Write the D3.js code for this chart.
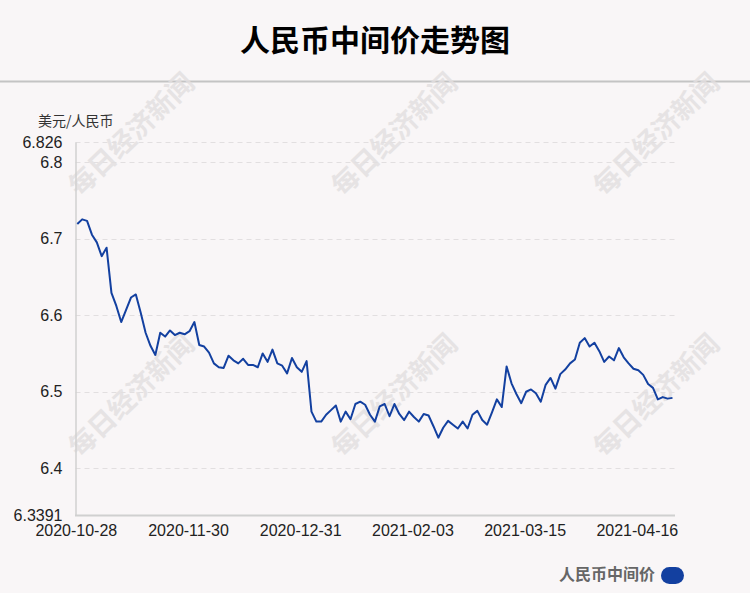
<!DOCTYPE html>
<html><head><meta charset="utf-8">
<script src="https://cdn.jsdelivr.net/npm/d3@7"></script>
<style>
html,body{margin:0;padding:0;background:#f9f6f7;}
svg{display:block;}
</style></head>
<body>
<svg id="chart" width="750" height="593"></svg>
<script>
const title = "人民币中间价走势图";
const yAxisTitle = "美元/人民币";
const seriesName = "人民币中间价";
const watermark = "每日经济新闻";

const dates = [
"2020-10-28","2020-10-29","2020-10-30",
"2020-11-02","2020-11-03","2020-11-04","2020-11-05","2020-11-06",
"2020-11-09","2020-11-10","2020-11-11","2020-11-12","2020-11-13",
"2020-11-16","2020-11-17","2020-11-18","2020-11-19","2020-11-20",
"2020-11-23","2020-11-24","2020-11-25","2020-11-26","2020-11-27",
"2020-11-30",
"2020-12-01","2020-12-02","2020-12-03","2020-12-04",
"2020-12-07","2020-12-08","2020-12-09","2020-12-10","2020-12-11",
"2020-12-14","2020-12-15","2020-12-16","2020-12-17","2020-12-18",
"2020-12-21","2020-12-22","2020-12-23","2020-12-24","2020-12-25",
"2020-12-28","2020-12-29","2020-12-30","2020-12-31",
"2021-01-04","2021-01-05","2021-01-06","2021-01-07","2021-01-08",
"2021-01-11","2021-01-12","2021-01-13","2021-01-14","2021-01-15",
"2021-01-18","2021-01-19","2021-01-20","2021-01-21","2021-01-22",
"2021-01-25","2021-01-26","2021-01-27","2021-01-28","2021-01-29",
"2021-02-01","2021-02-02","2021-02-03","2021-02-04","2021-02-05",
"2021-02-08","2021-02-09","2021-02-10",
"2021-02-18","2021-02-19",
"2021-02-22","2021-02-23","2021-02-24","2021-02-25","2021-02-26",
"2021-03-01","2021-03-02","2021-03-03","2021-03-04","2021-03-05",
"2021-03-08","2021-03-09","2021-03-10","2021-03-11","2021-03-12",
"2021-03-15","2021-03-16","2021-03-17","2021-03-18","2021-03-19",
"2021-03-22","2021-03-23","2021-03-24","2021-03-25","2021-03-26",
"2021-03-29","2021-03-30","2021-03-31",
"2021-04-01","2021-04-02",
"2021-04-06","2021-04-07","2021-04-08","2021-04-09",
"2021-04-12","2021-04-13","2021-04-14","2021-04-15","2021-04-16",
"2021-04-19","2021-04-20","2021-04-21","2021-04-22","2021-04-23",
"2021-04-26","2021-04-27"
];

const values = [
6.719,6.725,6.723,6.705,6.695,6.677,6.688,6.629,6.612,6.591,
6.607,6.623,6.627,6.603,6.577,6.560,6.548,6.577,6.572,6.580,
6.574,6.577,6.575,6.579,6.591,6.561,6.559,6.551,6.537,6.532,
6.531,6.547,6.541,6.537,6.543,6.535,6.535,6.532,6.550,6.539,
6.555,6.537,6.534,6.524,6.544,6.532,6.526,6.540,6.474,6.461,
6.461,6.470,6.476,6.482,6.461,6.474,6.464,6.484,6.487,6.483,
6.470,6.461,6.481,6.484,6.468,6.484,6.471,6.463,6.474,6.467,
6.461,6.471,6.469,6.455,6.440,6.453,6.462,6.457,6.452,6.461,
6.452,6.470,6.475,6.463,6.457,6.473,6.490,6.480,6.533,6.511,
6.497,6.485,6.500,6.503,6.498,6.487,6.509,6.518,6.504,6.523,
6.529,6.537,6.542,6.564,6.570,6.559,6.564,6.553,6.539,6.546,
6.541,6.557,6.545,6.537,6.530,6.528,6.522,6.510,6.505,6.490,
6.493,6.491,6.492
];

const xTickLabels = ["2020-10-28","2020-11-30","2020-12-31","2021-02-03","2021-03-15","2021-04-16"];
const yTicks = [6.3391, 6.4, 6.5, 6.6, 6.7, 6.8, 6.826];
const yMin = 6.3391, yMax = 6.826;

const svg = d3.select("#chart");
const W = 750, H = 593;
const plot = {left: 75.5, right: 675, top: 142, bottom: 515};
const cjk = "'Noto Sans CJK SC','Noto Sans',sans-serif";
const latin = "'Liberation Sans',Arial,sans-serif";
const lineColor = "#1340a0";

svg.append("rect").attr("width", W).attr("height", H).attr("fill", "#f9f6f7");

// Title
svg.append("text").attr("x", W/2).attr("y", 51).attr("text-anchor", "middle")
  .attr("font-family", cjk).attr("font-weight", "bold").attr("font-size", 30)
  .attr("fill", "#000").text(title);
svg.append("line").attr("x1", 0).attr("x2", W).attr("y1", 81.5).attr("y2", 81.5)
  .attr("stroke", "#c4c4c4").attr("stroke-width", 2);

// Watermarks
const wmCenters = [[130,133],[393,133],[655,133],[130,394],[393,394],[655,394]];
svg.append("g").selectAll("text").data(wmCenters).join("text")
  .attr("transform", d => `translate(${d[0]},${d[1]}) rotate(-44)`)
  .attr("text-anchor", "middle").attr("dominant-baseline", "central")
  .attr("font-family", cjk).attr("font-weight", "bold").attr("font-size", 27)
  .attr("fill", "#e2dfe0").attr("opacity", 0.8).text(watermark);

const x = d3.scalePoint().domain(dates).range([77.3, 672.5]);
const y = d3.scaleLinear().domain([yMin, yMax]).range([plot.bottom, plot.top]);

// Grid
svg.append("g").selectAll("line").data(yTicks.filter(v => v !== yMin)).join("line")
  .attr("x1", plot.left).attr("x2", plot.right)
  .attr("y1", d => Math.round(y(d)) + 0.5).attr("y2", d => Math.round(y(d)) + 0.5)
  .attr("stroke", "#e2dfe0").attr("stroke-width", 1).attr("stroke-dasharray", "5,4");

// Y axis
const yAxis = d3.axisLeft(y).tickValues(yTicks).tickSize(0).tickPadding(13)
  .tickFormat(d => String(d));
const yg = svg.append("g").attr("transform", `translate(${plot.left},0)`).call(yAxis);
yg.select(".domain").attr("stroke", "#d0d0d0").attr("stroke-width", 1.5);
yg.selectAll("text").attr("font-family", latin).attr("font-size", 16).attr("fill", "#222");

// X axis
const xAxis = d3.axisBottom(x).tickValues(xTickLabels).tickSize(0).tickPadding(10);
const xg = svg.append("g").attr("transform", `translate(0,${plot.bottom})`).call(xAxis);
xg.select(".domain").remove();
xg.selectAll("text").attr("font-family", latin).attr("font-size", 16).attr("fill", "#222")
  .attr("dx", -1.5);
svg.append("line").attr("x1", plot.left - 0.5).attr("x2", plot.right)
  .attr("y1", plot.bottom + 0.5).attr("y2", plot.bottom + 0.5)
  .attr("stroke", "#d0d0d0").attr("stroke-width", 2);

// Y axis title
svg.append("text").attr("x", 38).attr("y", 126)
  .attr("font-family", cjk).attr("font-size", 14).attr("fill", "#333").text(yAxisTitle);

// Line
const line = d3.line().x((d, i) => x(dates[i])).y(d => y(d));
svg.append("path").datum(values).attr("d", line)
  .attr("fill", "none").attr("stroke", lineColor).attr("stroke-width", 2)
  .attr("stroke-linejoin", "round");

// Legend
svg.append("text").attr("x", 655).attr("y", 580).attr("text-anchor", "end")
  .attr("font-family", cjk).attr("font-weight", "bold").attr("font-size", 16)
  .attr("fill", "#666").text(seriesName);
svg.append("rect").attr("x", 661).attr("y", 567).attr("width", 23).attr("height", 17)
  .attr("rx", 8.5).attr("fill", lineColor);
</script>
</body></html>
